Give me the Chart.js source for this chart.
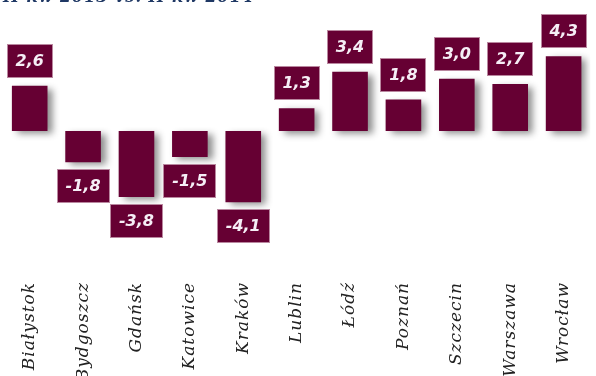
<!DOCTYPE html>
<html>
<head>
<meta charset="utf-8">
<script src="https://cdn.jsdelivr.net/npm/chart.js@4"></script>
<style>
    html, body { margin: 0; padding: 0; background: #fff; overflow: hidden; }
    body { width: 596px; height: 376px; position: relative; }
    #wrap { position: absolute; left: 0; top: -20px; width: 596px; height: 420px; }
</style>
</head>
<body>
<div id="wrap"><canvas id="changeChart"></canvas></div>
<script>
/* Dane: zmiana r/r, II kw 2013 vs II kw 2014 */
const titleText = "II kw 2013 vs. II kw 2014";
const cities = ["Białystok", "Bydgoszcz", "Gdańsk", "Katowice", "Kraków", "Lublin",
                "Łódź", "Poznań", "Szczecin", "Warszawa", "Wrocław"];
const changes = [2.6, -1.8, -3.8, -1.5, -4.1, 1.3, 3.4, 1.8, 3.0, 2.7, 4.3];
const yMin = -8;
const yMax = 7;

const BAR_COLOR = "#660033";

/* Rozstrzelony tekst (tytuł i nazwy miast) */
const spacing = {
    id: "spacing",
    beforeInit(chart) { chart.ctx.letterSpacing = "1px"; },
    beforeLayout(chart) { chart.ctx.letterSpacing = "1px"; },
    beforeDraw(chart) { chart.ctx.letterSpacing = "1px"; }
};

/* Cień pod słupkami */
const barShadow = {
    id: "barShadow",
    beforeDatasetsDraw(chart) {
        const ctx = chart.ctx;
        ctx.save();
        ctx.shadowColor = "rgba(0, 0, 0, 0.45)";
        ctx.shadowBlur = 7;
        ctx.shadowOffsetX = 5;
        ctx.shadowOffsetY = 3;
    },
    afterDatasetsDraw(chart) {
        chart.ctx.restore();
    }
};

/* Etykiety z wartościami w ramkach */
const valueBoxes = {
    id: "valueBoxes",
    afterDatasetsDraw(chart) {
        const ctx = chart.ctx;
        const meta = chart.getDatasetMeta(0);
        ctx.save();
        ctx.letterSpacing = "0px";
        ctx.font = "italic bold 16px 'DejaVu Sans'";
        ctx.textAlign = "center";
        ctx.textBaseline = "middle";
        meta.data.forEach((bar, i) => {
            const v = changes[i];
            const txt = v.toFixed(1).replace(".", ",");
            const w = Math.round(ctx.measureText(txt).width + 18);
            const h = 34;
            const x = Math.round(bar.x - w / 2);
            const y = v >= 0 ? Math.round(bar.y - 8 - h) : Math.round(bar.y + 7);
            ctx.fillStyle = BAR_COLOR;
            ctx.fillRect(x, y, w, h);
            ctx.strokeStyle = "#b9879f";
            ctx.lineWidth = 1;
            ctx.strokeRect(x + 0.5, y + 0.5, w - 1, h - 1);
            ctx.fillStyle = "#f6eef6";
            ctx.fillText(txt, bar.x, y + h / 2 + 1);
        });
        ctx.restore();
    }
};

new Chart(document.getElementById("changeChart"), {
    type: "bar",
    data: {
        labels: cities,
        datasets: [{
            data: changes,
            backgroundColor: BAR_COLOR,
            borderWidth: 0,
            barPercentage: 0.667,
            categoryPercentage: 1
        }]
    },
    options: {
        responsive: true,
        maintainAspectRatio: false,
        animation: false,
        layout: { padding: { left: 3, right: 0, top: 0, bottom: 0 } },
        plugins: {
            legend: { display: false },
            tooltip: { enabled: false },
            title: {
                display: true,
                text: titleText,
                align: "start",
                color: "#1f3864",
                font: { family: "'DejaVu Serif'", size: 16, style: "italic", weight: "bold" },
                padding: { top: 8, bottom: 2 }
            }
        },
        scales: {
            x: {
                grid: { display: false, drawTicks: false },
                border: { display: false },
                ticks: {
                    minRotation: 90,
                    maxRotation: 90,
                    autoSkip: false,
                    padding: 12,
                    color: "#222",
                    font: { family: "'DejaVu Serif'", size: 17, style: "italic" }
                },
                afterFit(scale) { scale.height = 130; }
            },
            y: {
                display: false,
                min: yMin,
                max: yMax
            }
        }
    },
    plugins: [spacing, barShadow, valueBoxes]
});
</script>
</body>
</html>
